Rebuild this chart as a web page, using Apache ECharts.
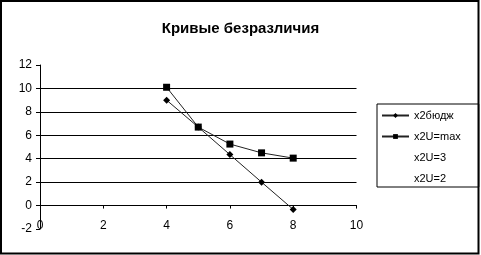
<!DOCTYPE html>
<html>
<head>
<meta charset="utf-8">
<script src="https://cdn.jsdelivr.net/npm/echarts@6/dist/echarts.min.js"></script>
<style>
html,body{margin:0;padding:0;background:#fff;}
#c{width:481px;height:255px;}
</style>
</head>
<body>
<div id="c"></div>
<script>
const titleText = 'Кривые безразличия';
const seriesNames = ['x2бюдж', 'x2U=max', 'x2U=3', 'x2U=2'];
const xValues = [4, 5, 6, 7, 8];
const budgetValues = [9.0, 6.7, 4.35, 2.0, -0.33];
const uMaxValues = [10.1, 6.7, 5.25, 4.5, 4.05];

const chart = echarts.init(document.getElementById('c'), null, {renderer: 'canvas'});
const font = 'Liberation Sans, Arial, sans-serif';

const option = {
  animation: false,
  backgroundColor: '#fff',
  title: {
    text: titleText,
    left: 'center',
    top: 16,
    textStyle: {fontFamily: font, fontSize: 15, fontWeight: 'bold', color: '#000'}
  },
  graphic: [{
    type: 'rect',
    shape: {x: 1, y: 1, width: 477.5, height: 252.5},
    style: {fill: 'none', stroke: '#000', lineWidth: 2},
    silent: true,
    z: 100
  }],
  legend: {
    orient: 'vertical',
    left: 377,
    top: 104,
    padding: [5, 18, 2, 4],
    itemGap: 8,
    itemWidth: 27,
    itemHeight: 6,
    itemTextGap: 3,
    borderColor: '#000',
    borderWidth: 1,
    backgroundColor: '#fff',
    textStyle: {fontFamily: font, fontSize: 11, color: '#000', lineHeight: 13},
    data: [
      {name: seriesNames[0]},
      {name: seriesNames[1]},
      {name: seriesNames[2], itemStyle: {opacity: 0}, lineStyle: {opacity: 0}},
      {name: seriesNames[3], itemStyle: {opacity: 0}, lineStyle: {opacity: 0}}
    ]
  },
  grid: {left: 40, right: 124.5, top: 65, bottom: 26, containLabel: false},
  xAxis: {
    type: 'value',
    min: 0, max: 10, interval: 2,
    axisLine: {onZero: true, lineStyle: {color: '#000', width: 1}},
    axisTick: {show: true, length: 3, lineStyle: {color: '#000'}},
    axisLabel: {fontFamily: font, fontSize: 12, color: '#000', margin: -9},
    splitLine: {show: false}
  },
  yAxis: {
    type: 'value',
    min: -2, max: 12, interval: 2,
    axisLine: {show: true, lineStyle: {color: '#000', width: 1}},
    axisTick: {show: true, length: 4, lineStyle: {color: '#000'}},
    axisLabel: {fontFamily: font, fontSize: 12, color: '#000', margin: 8},
    splitLine: {
      show: true,
      lineStyle: {
        color: ['rgba(0,0,0,0)', '#000', '#000', '#000', '#000', '#000', '#000', 'rgba(0,0,0,0)'],
        width: 1
      }
    }
  },
  series: [
    {
      name: seriesNames[0], type: 'line',
      data: xValues.map((x, i) => [x, budgetValues[i]]),
      symbol: 'diamond', symbolSize: 7, showAllSymbol: true,
      lineStyle: {color: '#222', width: 1},
      itemStyle: {color: '#000', borderWidth: 0},
      z: 5
    },
    {
      name: seriesNames[1], type: 'line',
      data: xValues.map((x, i) => [x, uMaxValues[i]]),
      symbol: 'rect', symbolSize: 7, showAllSymbol: true,
      lineStyle: {color: '#222', width: 1},
      itemStyle: {color: '#000', borderWidth: 0},
      z: 5
    },
    {
      name: seriesNames[2], type: 'line', data: [], symbol: 'none',
      lineStyle: {opacity: 0}, itemStyle: {opacity: 0}
    },
    {
      name: seriesNames[3], type: 'line', data: [], symbol: 'none',
      lineStyle: {opacity: 0}, itemStyle: {opacity: 0}
    }
  ]
};
chart.setOption(option);
</script>
</body>
</html>
